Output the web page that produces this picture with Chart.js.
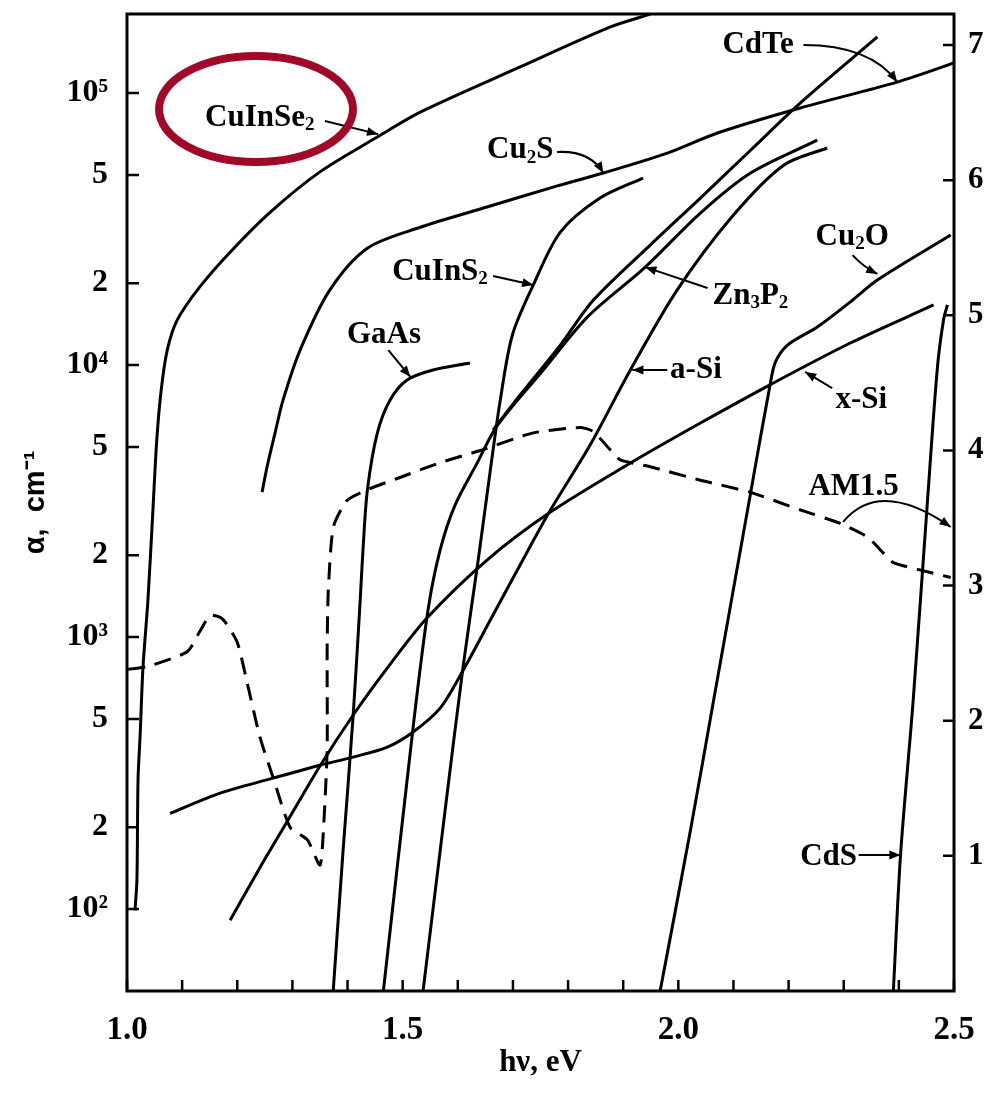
<!DOCTYPE html>
<html>
<head>
<meta charset="utf-8">
<script src="https://cdn.jsdelivr.net/npm/chart.js@4.4.0/dist/chart.umd.min.js"></script>
<style>
  html, body { margin: 0; padding: 0; background: #fff; }
</style>
</head>
<body>
<canvas id="myChart" width="989" height="1093"></canvas>
<script>
// absorption coefficient curves: photon energy (eV) and alpha (cm^-1)
const cuinse2E = [1.0145, 1.018, 1.020, 1.024, 1.029, 1.038, 1.047, 1.054, 1.062, 1.073, 1.091, 1.132, 1.187, 1.260, 1.350, 1.454, 1.532, 1.713, 1.877, 1.949];
const cuinse2A = [99, 128, 298, 444, 776, 1370, 2930, 5300, 8090, 11350, 14630, 19370, 26000, 36500, 51300, 68900, 85100, 124700, 175000, 195000];

const cu2sE = [1.245, 1.254, 1.269, 1.283, 1.314, 1.368, 1.436, 1.532, 1.653, 1.773, 1.864, 1.980, 2.071, 2.221, 2.397, 2.5];
const cu2sA = [3410, 4220, 5680, 7430, 11350, 18900, 26900, 32100, 38100, 45100, 50800, 60100, 71300, 88100, 109700, 128900];

const cdteE = [1.664, 1.713, 1.786, 1.846, 1.949, 2.040, 2.131, 2.221, 2.361];
const cdteA = [5770, 7760, 11840, 17330, 27600, 41100, 61600, 91800, 160700];

const cuins2E = [1.537, 1.577, 1.610, 1.637, 1.659, 1.677, 1.699, 1.737, 1.786, 1.858, 1.936];
const cuins2A = [50, 231, 789, 1920, 4110, 7430, 12900, 19700, 30800, 41100, 48700];

const gaasE = [1.374, 1.392, 1.410, 1.423, 1.428, 1.436, 1.454, 1.477, 1.508, 1.555, 1.622];
const gaasA = [50, 165, 508, 1370, 2090, 3470, 5620, 7430, 8810, 9590, 10170];

const zn3p2E = [1.465, 1.519, 1.546, 1.568, 1.595, 1.635, 1.672, 1.755, 1.835, 1.940, 2.040, 2.131, 2.252];
const zn3p2A = [50, 467, 1257, 2090, 3055, 4360, 6010, 9590, 15000, 22900, 36200, 50800, 67100];

const asiE = [1.078, 1.169, 1.265, 1.350, 1.410, 1.472, 1.519, 1.568, 1.610, 1.659, 1.713, 1.768, 1.840, 1.913, 1.998, 2.100, 2.191, 2.270];
const asiA = [225, 267, 303, 338, 362, 394, 448, 548, 757, 1155, 1840, 2930, 5080, 9590, 18900, 35600, 54300, 62800];

const xsiE = [1.187, 1.241, 1.290, 1.350, 1.410, 1.472, 1.544, 1.653, 1.768, 1.907, 2.040, 2.162, 2.312, 2.463];
const xsiA = [91, 142, 209, 336, 516, 769, 1175, 1920, 2880, 4290, 6120, 8370, 12050, 16630];

const cu2oE = [1.967, 2.022, 2.064, 2.131, 2.167, 2.176, 2.198, 2.252, 2.312, 2.361, 2.494];
const cu2oA = [50, 195, 586, 3380, 8590, 10260, 11840, 13800, 17070, 20540, 30060];

const cdsE = [2.390, 2.403, 2.426, 2.452, 2.470, 2.481, 2.488];
const cdsA = [50, 158, 586, 3190, 9840, 14630, 16630];

// AM1.5 spectrum, read on the right axis
const am15E = [1.002, 1.036, 1.109, 1.132, 1.151, 1.174, 1.200, 1.218, 1.241, 1.265, 1.296, 1.327, 1.350, 1.356, 1.363, 1.363, 1.365, 1.374, 1.399, 1.436, 1.495, 1.568, 1.641, 1.737, 1.822, 1.846, 1.871, 1.895, 1.949, 2.040, 2.131, 2.221, 2.294, 2.343, 2.372, 2.390, 2.434, 2.494];
const am15V = [2.38, 2.40, 2.51, 2.66, 2.78, 2.75, 2.58, 2.28, 1.88, 1.58, 1.21, 1.12, 0.93, 1.17, 1.78, 2.52, 2.95, 3.43, 3.63, 3.71, 3.80, 3.91, 4.00, 4.13, 4.17, 4.14, 4.03, 3.93, 3.88, 3.78, 3.69, 3.56, 3.46, 3.36, 3.24, 3.17, 3.12, 3.06];

// ticks
const xTickVals = [1.0, 1.1, 1.2, 1.3, 1.4, 1.5, 1.6, 1.7, 1.8, 1.9, 2.0, 2.1, 2.2, 2.3, 2.4, 2.5];
const xTickText = ['1.0', '', '', '', '', '1.5', '', '', '', '', '2.0', '', '', '', '', '2.5'];
const yTickVals = [100, 200, 500, 1000, 2000, 5000, 10000, 20000, 50000, 100000];
const yTickText = ['10²', '2', '5', '10³', '2', '5', '10⁴', '2', '5', '10⁵'];
const y2TickVals = [1, 2, 3, 4, 5, 6, 7];

// curve labels, placed in data units (eV, alpha)
const notes = [
  { text: 'CuInSe_2', e: 1.1416, a: 80900, from: [1.359, 78900], to: [1.4555, 70600] },
  { text: 'Cu_2S', e: 1.653, a: 61600, from: [1.780, 60700], ctrl: [1.840, 61600], to: [1.864, 50800] },
  { text: 'CuInS_2', e: 1.481, a: 21980, from: [1.664, 21240], to: [1.737, 19680] },
  { text: 'GaAs', e: 1.399, a: 12890, from: [1.474, 11350], to: [1.514, 9040] },
  { text: 'Zn_3P_2', e: 2.062, a: 17950, from: [2.053, 19190], to: [1.940, 22900] },
  { text: 'a-Si', e: 1.985, a: 9590, from: [1.980, 9590], to: [1.9165, 9590] },
  { text: 'x-Si', e: 2.285, a: 7430, from: [2.279, 8230], to: [2.230, 9430] },
  { text: 'Cu_2O', e: 2.249, a: 29570, from: [2.316, 25350], ctrl: [2.335, 23000], to: [2.361, 21620] },
  { text: 'CdTe', e: 2.080, a: 150000, from: [2.227, 150000], ctrl: [2.348, 150000], to: [2.397, 109700] },
  { text: 'AM1.5', e: 2.236, a: 3560, from: [2.299, 2650], ctrl: [2.365, 3850], to: [2.494, 2540] },
  { text: 'CdS', e: 2.221, a: 155, from: [2.327, 158], to: [2.403, 158] }
];
const circled = { e: 1.234, a: 87300 };

const serif = '"Liberation Serif", "Times New Roman", serif';

function series(label, xs, ys, axis, extra) {
  return Object.assign({
    label: label,
    data: xs.map((v, i) => ({ x: v, y: ys[i] })),
    yAxisID: axis,
    borderColor: '#000',
    borderWidth: 3,
    pointRadius: 0,
    tension: 0.3,
    fill: false
  }, extra || {});
}

function drawRich(ctx, str, x, y, size) {
  let cx = x;
  const parts = str.split(/(_\d)/).filter(p => p.length);
  parts.forEach(p => {
    if (p[0] === '_') {
      ctx.font = 'bold ' + Math.round(size * 0.62) + 'px ' + serif;
      ctx.fillText(p[1], cx, y + size * 0.24);
      cx += ctx.measureText(p[1]).width;
    } else {
      ctx.font = 'bold ' + size + 'px ' + serif;
      ctx.fillText(p, cx, y);
      cx += ctx.measureText(p).width;
    }
  });
}

function arrowHead(ctx, fx, fy, tx, ty, len) {
  const ang = Math.atan2(ty - fy, tx - fx);
  ctx.beginPath();
  ctx.moveTo(tx, ty);
  ctx.lineTo(tx - len * Math.cos(ang - 0.38), ty - len * Math.sin(ang - 0.38));
  ctx.lineTo(tx - len * Math.cos(ang + 0.38), ty - len * Math.sin(ang + 0.38));
  ctx.closePath();
  ctx.fill();
}

const frameAndNotes = {
  id: 'frameAndNotes',
  afterDraw(chart) {
    const { ctx, chartArea: a } = chart;
    const sx = chart.scales.x, sy = chart.scales.y, sy2 = chart.scales.y2;
    ctx.save();
    ctx.strokeStyle = '#000';
    ctx.fillStyle = '#000';
    ctx.lineWidth = 3;
    ctx.strokeRect(a.left, a.top, a.right - a.left, a.bottom - a.top);

    // inward tick marks
    ctx.lineWidth = 2.5;
    ctx.beginPath();
    sx.ticks.forEach(t => {
      const px = sx.getPixelForValue(t.value);
      ctx.moveTo(px, a.bottom); ctx.lineTo(px, a.bottom - 11);
    });
    sy.ticks.forEach(t => {
      const py = sy.getPixelForValue(t.value);
      ctx.moveTo(a.left, py); ctx.lineTo(a.left + 12, py);
    });
    sy2.ticks.forEach(t => {
      const py = sy2.getPixelForValue(t.value);
      ctx.moveTo(a.right, py); ctx.lineTo(a.right - 11, py);
    });
    ctx.stroke();

    // labels and arrows
    ctx.textBaseline = 'middle';
    ctx.textAlign = 'left';
    ctx.lineWidth = 2;
    notes.forEach(n => {
      drawRich(ctx, n.text, sx.getPixelForValue(n.e), sy.getPixelForValue(n.a), 31);
      const fx = sx.getPixelForValue(n.from[0]), fy = sy.getPixelForValue(n.from[1]);
      const tx = sx.getPixelForValue(n.to[0]), ty = sy.getPixelForValue(n.to[1]);
      ctx.beginPath();
      ctx.moveTo(fx, fy);
      let bx = fx, by = fy;
      if (n.ctrl) {
        bx = sx.getPixelForValue(n.ctrl[0]); by = sy.getPixelForValue(n.ctrl[1]);
        ctx.quadraticCurveTo(bx, by, tx, ty);
      } else {
        ctx.lineTo(tx, ty);
      }
      ctx.stroke();
      arrowHead(ctx, bx, by, tx, ty, 12);
    });

    // red ring around the CuInSe2 label
    ctx.strokeStyle = '#a00a28';
    ctx.lineWidth = 8;
    ctx.beginPath();
    ctx.ellipse(sx.getPixelForValue(circled.e), sy.getPixelForValue(circled.a), 97, 53, 0, 0, Math.PI * 2);
    ctx.stroke();
    ctx.restore();
  }
};

function noPad(s) {
  s.paddingTop = 0; s.paddingBottom = 0; s.paddingLeft = 0; s.paddingRight = 0;
}

const chartData = {
  type: 'line',
  data: {
    datasets: [
      series('CuInSe2', cuinse2E, cuinse2A, 'y'),
      series('Cu2S', cu2sE, cu2sA, 'y'),
      series('CdTe', cdteE, cdteA, 'y'),
      series('CuInS2', cuins2E, cuins2A, 'y'),
      series('GaAs', gaasE, gaasA, 'y'),
      series('Zn3P2', zn3p2E, zn3p2A, 'y'),
      series('a-Si', asiE, asiA, 'y'),
      series('x-Si', xsiE, xsiA, 'y'),
      series('Cu2O', cu2oE, cu2oA, 'y'),
      series('CdS', cdsE, cdsA, 'y'),
      series('AM1.5', am15E, am15V, 'y2', { borderDash: [17, 10], tension: 0.2 })
    ]
  },
  options: {
    responsive: false,
    animation: false,
    layout: { padding: { top: 14, left: 0, right: 0, bottom: 0 } },
    plugins: { legend: { display: false }, tooltip: { enabled: false } },
    scales: {
      x: {
        type: 'linear',
        min: 1.0,
        max: 2.5,
        grid: { display: false },
        border: { display: false },
        afterBuildTicks: s => { s.ticks = xTickVals.map(v => ({ value: v })); },
        afterFit: s => { s.height = 102; noPad(s); },
        ticks: {
          autoSkip: false,
          maxRotation: 0,
          padding: 12,
          color: '#000',
          font: { family: serif, size: 33, weight: 'bold' },
          callback: (v, i) => xTickText[i]
        },
        title: {
          display: true,
          text: 'hν, eV',
          color: '#000',
          font: { family: serif, size: 31, weight: 'bold' },
          padding: { top: 0, bottom: 11 }
        }
      },
      y: {
        type: 'logarithmic',
        position: 'left',
        min: 50,
        max: 195200,
        grid: { display: false },
        border: { display: false },
        afterBuildTicks: s => { s.ticks = yTickVals.map(v => ({ value: v })); },
        afterFit: s => { s.width = 127; noPad(s); },
        ticks: {
          autoSkip: false,
          padding: 11,
          color: '#000',
          font: { family: serif, size: 32, weight: 'bold' },
          callback: (v, i) => yTickText[i]
        },
        title: {
          display: true,
          text: 'α,  cm⁻¹',
          color: '#000',
          font: { family: '"Liberation Sans", Arial, sans-serif', size: 29, weight: 'bold' },
          padding: { top: 19, bottom: 0 }
        }
      },
      y2: {
        type: 'linear',
        position: 'right',
        min: 0,
        max: 7.23,
        grid: { display: false },
        border: { display: false },
        afterBuildTicks: s => { s.ticks = y2TickVals.map(v => ({ value: v })); },
        afterFit: s => { s.width = 35; noPad(s); },
        ticks: {
          autoSkip: false,
          padding: 6,
          color: '#000',
          font: { family: serif, size: 31, weight: 'bold' }
        }
      }
    }
  },
  plugins: [frameAndNotes]
};

const ctx = document.getElementById('myChart').getContext('2d');
const myChart = new Chart(ctx, chartData);
</script>
</body>
</html>
